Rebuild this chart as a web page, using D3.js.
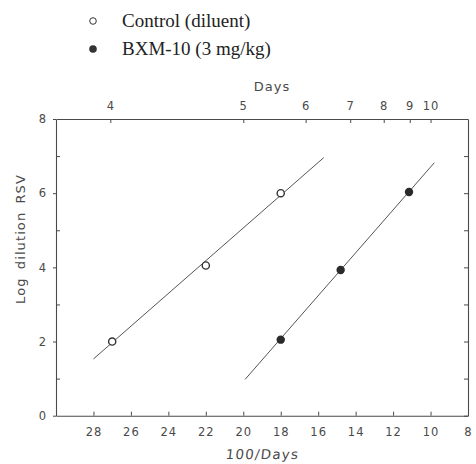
<!DOCTYPE html>
<html><head><meta charset="utf-8">
<script src="https://cdn.jsdelivr.net/npm/d3@7"></script>
<style>body{margin:0;background:#fff}</style>
</head><body>
<svg id="c" width="476" height="464"></svg>
<script>
// Data
const controlPts = [[27.0, 2.0], [22.0, 4.05], [18.0, 6.0]];
const bxmPts = [[18.0, 2.05], [14.8, 3.93], [11.15, 6.03]];
const controlLine = [[28.0, 1.53], [15.7, 6.96]];
const bxmLine = [[19.9, 0.98], [9.8, 6.82]];
const bottomTicks = [28, 26, 24, 22, 20, 18, 16, 14, 12, 10, 8];
const topTickPos = [27.1, 20, 16.67, 14.29, 12.5, 11.11, 10];
const topTickLabels = ["4", "5", "6", "7", "8", "9", "10"];
const yTicks = [0, 2, 4, 6, 8];
const yMinor = [1, 3, 5, 7];
const legendLabels = ["Control (diluent)", "BXM-10 (3 mg/kg)"];

const svg = d3.select("#c");
const L = 56, R = 468, T = 119, B = 415.7;
const x = d3.scaleLinear().domain([30, 8]).range([L, R]);
const y = d3.scaleLinear().domain([0, 8]).range([B, T]);
const ink = "#4a4a4a";
const font = "'DejaVu Sans', sans-serif";

function styleAxis(g) {
  g.select(".domain").attr("stroke", ink).attr("stroke-width", 1.1);
  g.selectAll(".tick line").attr("stroke", ink).attr("stroke-width", 1);
  g.selectAll(".tick text").attr("fill", ink).attr("font-family", font).attr("font-size", 11.5).attr("letter-spacing", 1);
}

// bottom
svg.append("g").attr("transform", `translate(0,${B})`)
  .call(d3.axisBottom(x).tickValues(bottomTicks).tickSize(-4).tickPadding(12).tickSizeOuter(0))
  .call(styleAxis);
// top
svg.append("g").attr("transform", `translate(0,${T})`)
  .call(d3.axisTop(x).tickValues(topTickPos).tickFormat((d, i) => topTickLabels[i]).tickSize(-4).tickPadding(9).tickSizeOuter(0))
  .call(styleAxis);
// left
svg.append("g").attr("transform", `translate(${L},0)`)
  .call(d3.axisLeft(y).tickValues(yTicks).tickSize(3).tickPadding(6).tickSizeOuter(0))
  .call(styleAxis);
svg.append("g").attr("transform", `translate(${L},0)`)
  .call(d3.axisLeft(y).tickValues(yMinor).tickSize(-4).tickFormat("").tickSizeOuter(0))
  .call(styleAxis).select(".domain").remove();
// right
svg.append("g").attr("transform", `translate(${R},0)`)
  .call(d3.axisRight(y).tickValues(yTicks.concat(yMinor)).tickSize(-4).tickFormat("").tickSizeOuter(0))
  .call(styleAxis);

// lines
const line = d3.line().x(d => x(d[0])).y(d => y(d[1]));
[controlLine, bxmLine].forEach(l => {
  svg.append("path").attr("d", line(l)).attr("fill", "none").attr("stroke", "#555").attr("stroke-width", 1);
});

// points
svg.selectAll(".ctl").data(controlPts).enter().append("circle")
  .attr("cx", d => x(d[0])).attr("cy", d => y(d[1])).attr("r", 3.6)
  .attr("fill", "#fff").attr("stroke", "#333").attr("stroke-width", 1.4);
svg.selectAll(".bxm").data(bxmPts).enter().append("circle")
  .attr("cx", d => x(d[0])).attr("cy", d => y(d[1])).attr("r", 4.2)
  .attr("fill", "#2a2a2a");

// axis titles
svg.append("text").attr("y", 459).attr("text-anchor", "middle")
  .attr("font-family", font).attr("font-size", 13.5).attr("letter-spacing", 1.2).attr("fill", ink)
  .attr("transform", "skewX(-6)")
  .attr("x", 262 + 459 * Math.tan(6 * Math.PI / 180))
  .text("100/Days");
svg.append("text").attr("x", 272).attr("y", 91).attr("text-anchor", "middle")
  .attr("font-family", font).attr("font-size", 13).attr("letter-spacing", 1).attr("fill", ink).text("Days");
svg.append("text").attr("transform", `translate(25,239) rotate(-90)`).attr("text-anchor", "middle")
  .attr("font-family", font).attr("font-size", 13).attr("letter-spacing", 1.1).attr("fill", ink)
  .attr("word-spacing", 3)
  .text("Log dilution RSV");

// legend
const lg = svg.append("g");
legendLabels.forEach((lab, i) => {
  const cy = 21 + i * 28;
  lg.append("circle").attr("cx", 93).attr("cy", cy).attr("r", i === 0 ? 3.3 : 3.8)
    .attr("fill", i === 0 ? "#fff" : "#333").attr("stroke", "#333").attr("stroke-width", i === 0 ? 1 : 0);
  lg.append("text").attr("x", 122).attr("y", cy + 6).attr("font-family", "'Liberation Serif', serif")
    .attr("font-size", 19).attr("fill", "#222").text(lab);
});
</script>
</body></html>
